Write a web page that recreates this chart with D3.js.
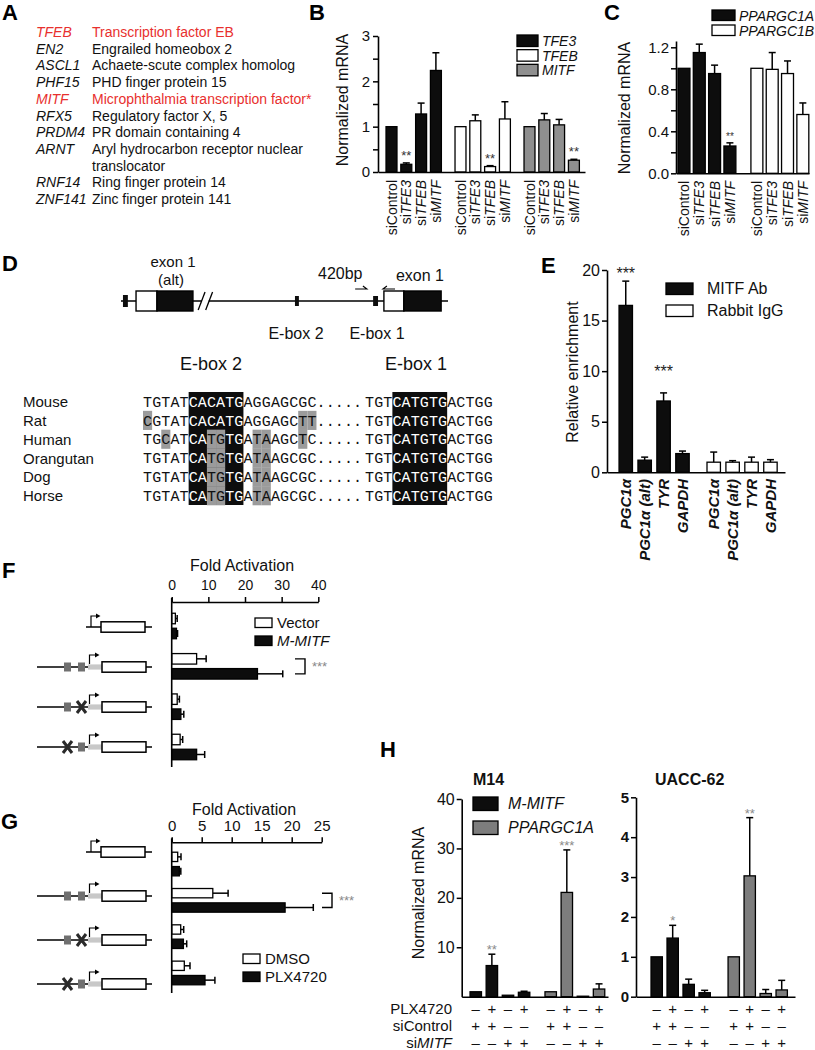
<!DOCTYPE html>
<html><head><meta charset="utf-8">
<script src="https://cdn.jsdelivr.net/npm/d3@7"></script>
<style>body{margin:0;background:#fff}</style>
</head><body><svg id="fig" width="815" height="1050"></svg>
<script>
const FF = "'Liberation Sans', Arial, Helvetica, sans-serif";
const MONO = "'Liberation Mono', 'Courier New', monospace";
const RED = "#e8302e";
const BLACK = "#0d0d0d";

// ---------------- DATA ----------------
// A
const A_genes = ["TFEB","EN2","ASCL1","PHF15","MITF","RFX5","PRDM4","ARNT","RNF14","ZNF141"];
const A_desc = ["Transcription factor EB","Engrailed homeobox 2","Achaete-scute complex homolog","PHD finger protein 15","Microphthalmia transcription factor*","Regulatory factor X, 5","PR domain containing 4","Aryl hydrocarbon receptor nuclear\ntranslocator","Ring finger protein 14","Zinc finger protein 141"];
const A_red = ["TFEB","MITF"];
// B
const B_series = ["TFE3","TFEB","MITF"];
const B_conds = ["siControl","siTFE3","siTFEB","siMITF"];
const B_values = [[1,0.17,1.28,2.24],[1,1.13,0.12,1.17],[1,1.15,1.04,0.26]];
const B_errors = [[0,0.03,0.24,0.39],[0,0.13,0.02,0.38],[0,0.14,0.12,0.02]];
const B_stars = [["","**","",""],["","","**",""],["","","","**"]];
const B_ticks = [0,1,2,3];
const B_minor = [0.5,1.5,2.5];
// C
const C_series = ["PPARGC1A","PPARGC1B"];
const C_conds = ["siControl","siTFE3","siTFEB","siMITF"];
const C_values = [[1,1.15,0.95,0.26],[1,0.99,0.95,0.56]];
const C_errors = [[0,0.08,0.08,0.03],[0,0.16,0.12,0.11]];
const C_stars = [["","","","**"],["","","",""]];
const C_ticks = [0,0.4,0.8,1.2];
const C_minor = [0.2,0.6,1.0];
// D
const D_species = ["Mouse","Rat","Human","Orangutan","Dog","Horse"];
const D_seqLeft = ["TGTATCACATGAGGAGCGC","CGTATCACATGAGGAGCTT","TGCATCATGTGATAAGCTC","TGTATCATGTGATAAGCGC","TGTATCATGTGATAAGCGC","TGTATCATGTGATAAGCGC"];
const D_seqRight = ["TGTCATGTGACTGG","TGTCATGTGACTGG","TGTCATGTGACTGG","TGTCATGTGACTGG","TGTCATGTGACTGG","TGTCATGTGACTGG"];
const D_eboxLeft = [5,10];
const D_eboxRight = [3,8];
// E
const E_series = ["MITF Ab","Rabbit IgG"];
const E_targets = ["PGC1α","PGC1α (alt)","TYR","GAPDH"];
const E_values = [[16.5,1.2,7.05,1.85],[1.0,1.0,1.0,1.0]];
const E_errors = [[2.4,0.3,0.8,0.25],[1.0,0.15,0.5,0.25]];
const E_stars = [["***","","***",""],["","","",""]];
const E_starAt = [[19.1,0,9.4,0],[0,0,0,0]];
const E_ticks = [0,5,10,15,20];
// F
const F_rows = ["basic","wt","mutE2","mutE1"];
const F_series = ["Vector","M-MITF"];
const F_values = [[1.0,6.8,1.5,2.3],[1.3,23.4,2.5,6.8]];
const F_errors = [[0.5,2.6,0.6,0.7],[0.3,6.9,0.8,2.2]];
const F_ticks = [0,10,20,30,40];
// G
const G_rows = ["basic","wt","mutE2","mutE1"];
const G_series = ["DMSO","PLX4720"];
const G_values = [[1.0,6.85,1.5,2.1],[1.27,18.9,1.95,5.55]];
const G_errors = [[0.55,2.55,0.5,0.95],[0.25,4.7,0.55,1.65]];
const G_ticks = [0,5,10,15,20,25];
// H
const H_series = ["M-MITF","PPARGC1A"];
const H_conds = ["c1","c2","c3","c4"];
const H_PLX = ["–","+","–","+"];
const H_siControl = ["+","+","–","–"];
const H_siMITF = ["–","–","+","+"];
const H_M14_values = [[1.0,6.3,0.3,0.9],[1.0,21.1,0.1,1.55]];
const H_M14_errors = [[0,2.3,0,0.2],[0,8.6,0,1.05]];
const H_M14_stars = [["","**","",""],["","***","",""]];
const H_M14_ticks = [10,20,30,40];
const H_UACC_values = [[1.0,1.47,0.31,0.1],[1.0,3.03,0.08,0.17]];
const H_UACC_errors = [[0,0.32,0.13,0.06],[0,1.46,0.1,0.24]];
const H_UACC_stars = [["","*","",""],["","**","",""]];
const H_UACC_ticks = [0,1,2,3,4,5];

// ---------------- HELPERS ----------------
const svg = d3.select("#fig");
svg.append("rect").attr("width",815).attr("height",1050).attr("fill","#fff");

function txt(g, x, y, s, o = {}) {
  const t = g.append("text").attr("x", x).attr("y", y)
    .attr("font-family", o.ff || FF).attr("font-size", o.size || 14)
    .attr("fill", o.fill || "#111").text(s);
  if (o.anchor) t.attr("text-anchor", o.anchor);
  if (o.italic) t.attr("font-style", "italic");
  if (o.bold) t.attr("font-weight", "bold");
  return t;
}
function styleAxis(ax, size, bold) {
  ax.attr("font-family", FF).attr("font-size", size);
  if (bold) ax.attr("font-weight", "bold");
  ax.selectAll(".domain").attr("stroke", "#000").attr("stroke-width", 1.6);
  ax.selectAll(".tick line").attr("stroke", "#000").attr("stroke-width", 1.5);
  ax.selectAll(".tick text").attr("fill", "#111");
}
function yAxis(g, y, x0, major, minor, fmt, size, bold, pad) {
  const ax = g.append("g").attr("transform", `translate(${x0},0)`)
    .call(d3.axisLeft(y).tickValues(major).tickFormat(fmt).tickSize(5).tickSizeOuter(0).tickPadding(pad));
  styleAxis(ax, size, bold);
  if (minor && minor.length) {
    const m = g.append("g").attr("transform", `translate(${x0},0)`)
      .call(d3.axisLeft(y).tickValues(minor).tickFormat("").tickSize(5));
    m.select(".domain").remove();
    styleAxis(m, size, bold);
  }
}
function xBaseline(g, x0, x1, y0) {
  const xs = d3.scaleLinear().domain([0, 1]).range([x0, x1]);
  const ax = g.append("g").attr("transform", `translate(0,${y0})`)
    .call(d3.axisBottom(xs).tickValues([]).tickSizeOuter(0));
  styleAxis(ax, 12, false);
}
// grouped vertical bars
function vbars(g, series, conds, values, errors, fills, outerRange, pi, ii, y, stars, starSize, starColor, starOff) {
  const xo = d3.scaleBand().domain(series).range(outerRange).paddingInner(pi).paddingOuter(0);
  const xi = d3.scaleBand().domain(conds).range([0, xo.bandwidth()]).paddingInner(ii).paddingOuter(ii / 2);
  const centers = [];
  series.forEach((s, si) => {
    centers.push([]);
    conds.forEach((c, ci) => {
      const v = values[si][ci], e = errors[si][ci];
      const x = xo(s) + xi(c), w = xi.bandwidth(), cx = x + w / 2;
      centers[si].push(cx);
      g.append("rect").attr("x", x).attr("y", y(v)).attr("width", w).attr("height", y(0) - y(v))
        .attr("fill", fills[si]).attr("stroke", "#000").attr("stroke-width", 1.3);
      if (e > 0) {
        g.append("line").attr("x1", cx).attr("x2", cx).attr("y1", y(v)).attr("y2", y(v + e)).attr("stroke", "#000").attr("stroke-width", 1.5);
        g.append("line").attr("x1", cx - 3.5).attr("x2", cx + 3.5).attr("y1", y(v + e)).attr("y2", y(v + e)).attr("stroke", "#000").attr("stroke-width", 1.5);
      }
      if (stars && stars[si][ci]) {
        txt(g, cx, y(v + e) - (starOff == null ? 3 : starOff), stars[si][ci], { anchor: "middle", size: starSize, fill: starColor });
      }
    });
  });
  return centers;
}
function siLabel(g, cx, y0, cond, size) {
  const t = g.append("text").attr("transform", `translate(${cx},${y0}) rotate(-90)`)
    .attr("text-anchor", "end").attr("dy", "0.36em").attr("font-family", FF).attr("font-size", size).attr("fill", "#111");
  if (cond.startsWith("si") && cond !== "siControl") {
    t.append("tspan").text("si");
    t.append("tspan").attr("font-style", "italic").text(cond.slice(2));
  } else t.text(cond);
}
function rotLabel(g, x, y, s, size) {
  g.append("text").attr("transform", `translate(${x},${y}) rotate(-90)`).attr("text-anchor", "middle")
    .attr("font-family", FF).attr("font-size", size).attr("fill", "#111").text(s);
}

// ---------------- PANEL LETTERS ----------------
const letters = [["A", 2, 20], ["B", 309, 20], ["C", 604, 20], ["D", 2, 271], ["E", 541, 273], ["F", 2, 578], ["G", 1, 829], ["H", 380, 757]];
letters.forEach(([l, x, y]) => txt(svg, x, y, l, { size: 22, bold: true, fill: "#000" }));

// ---------------- PANEL A ----------------
{
  const g = svg.append("g");
  const rowY = d3.scaleLinear().domain([0, 10]).range([37, 204]);
  let line = 0;
  A_genes.forEach((gn, i) => {
    const col = A_red.includes(gn) ? RED : "#111";
    txt(g, 36, rowY(line), gn, { italic: true, fill: col, size: 14 });
    const parts = A_desc[i].split("\n");
    parts.forEach((p, k) => txt(g, 92, rowY(line + k), p, { fill: col, size: 14 }));
    line += parts.length;
  });
}

// ---------------- PANEL B ----------------
{
  const g = svg.append("g");
  const y = d3.scaleLinear().domain([0, 3]).range([172, 36]);
  const centers = vbars(g, B_series, B_conds, B_values, B_errors, [BLACK, "#fff", "#8f8f8f"], [384.1, 581.3], 0.142, 0.26, y, B_stars, 13, "#333");
  yAxis(g, y, 378, B_ticks, B_minor, d3.format("d"), 15, false, 3);
  xBaseline(g, 378, 585, 172);
  centers.forEach(cs => cs.forEach((cx, ci) => siLabel(g, cx, 180, B_conds[ci], 14)));
  rotLabel(g, 348, 100, "Normalized mRNA", 16);
  const fills = [BLACK, "#fff", "#8f8f8f"];
  const ly = d3.scaleBand().domain(B_series).range([35, 79]);
  B_series.forEach((s, i) => {
    g.append("rect").attr("x", 517).attr("y", ly(s)).attr("width", 21).attr("height", 11.5).attr("fill", fills[i]).attr("stroke", "#000").attr("stroke-width", 1.3);
    txt(g, 542, ly(s) + 11, s, { italic: true, size: 14 });
  });
}

// ---------------- PANEL C ----------------
{
  const g = svg.append("g");
  const y = d3.scaleLinear().domain([0, 1.26]).range([173.3, 41]);
  const centers = vbars(g, C_series, C_conds, C_values, C_errors, [BLACK, "#fff"], [676.3, 810.5], 0.16, 0.22, y, C_stars, 10, "#333");
  yAxis(g, y, 676, C_ticks, C_minor, d3.format(".1f"), 15, false, 2);
  xBaseline(g, 676, 809, 173.3);
  centers.forEach(cs => cs.forEach((cx, ci) => siLabel(g, cx, 181, C_conds[ci], 14)));
  rotLabel(g, 630, 108, "Normalized mRNA", 16);
  const ly = d3.scaleBand().domain(C_series).range([10, 40]);
  [BLACK, "#fff"].forEach((f, i) => {
    g.append("rect").attr("x", 712).attr("y", ly(C_series[i])).attr("width", 23).attr("height", 10.5).attr("fill", f).attr("stroke", "#000").attr("stroke-width", 1.3);
    txt(g, 739, ly(C_series[i]) + 10.5, C_series[i], { italic: true, size: 14 });
  });
}

// ---------------- PANEL D ----------------
{
  const g = svg.append("g");
  // gene schematic (schematic units 0..100)
  const xs = d3.scaleLinear().domain([0, 100]).range([121, 448]);
  const ly = 301;
  g.append("line").attr("x1", xs(0)).attr("x2", xs(100)).attr("y1", ly).attr("y2", ly).attr("stroke", "#000").attr("stroke-width", 1.6);
  // break
  g.append("rect").attr("x", xs(24.6)).attr("y", ly - 3).attr("width", xs(26.8) - xs(24.6)).attr("height", 6).attr("fill", "#fff");
  [[23.6], [25.9]].forEach(([u]) => {
    g.append("line").attr("x1", xs(u)).attr("y1", ly + 9).attr("x2", xs(u + 2.1)).attr("y2", ly - 9).attr("stroke", "#000").attr("stroke-width", 1.3);
  });
  const marks = [[0.6, 2.1, 6], [53.2, 54.4, 5], [77.1, 78.6, 5]];
  marks.forEach(([a, b, h]) => g.append("rect").attr("x", xs(a)).attr("y", ly - h).attr("width", xs(b) - xs(a)).attr("height", 2 * h).attr("fill", BLACK));
  const exons = [[4.6, 11.0, 22.0], [80.4, 86.5, 97.9]];
  exons.forEach(([a, m, b]) => {
    g.append("rect").attr("x", xs(a)).attr("y", ly - 10).attr("width", xs(m) - xs(a)).attr("height", 20).attr("fill", "#fff").attr("stroke", "#000").attr("stroke-width", 1.4);
    g.append("rect").attr("x", xs(m)).attr("y", ly - 10).attr("width", xs(b) - xs(m)).attr("height", 20).attr("fill", BLACK).attr("stroke", "#000").attr("stroke-width", 1.4);
  });
  // primers
  const py = 289;
  g.append("path").attr("d", `M${xs(71.6)},${py}H${xs(75.2)}l-4,-3`).attr("fill", "none").attr("stroke", "#000").attr("stroke-width", 1.1);
  g.append("path").attr("d", `M${xs(83.8)},${py}H${xs(80.1)}l4,-3`).attr("fill", "none").attr("stroke", "#000").attr("stroke-width", 1.1);
  txt(g, 173, 266.5, "exon 1", { anchor: "middle", size: 15 });
  txt(g, 171, 284.5, "(alt)", { anchor: "middle", size: 15 });
  txt(g, 318, 279, "420bp", { size: 16 });
  txt(g, 420, 281, "exon 1", { anchor: "middle", size: 16 });
  txt(g, 296, 339, "E-box 2", { anchor: "middle", size: 16 });
  txt(g, 377, 339, "E-box 1", { anchor: "middle", size: 16 });
  txt(g, 211, 370, "E-box 2", { anchor: "middle", size: 18 });
  txt(g, 416, 370, "E-box 1", { anchor: "middle", size: 18 });

  // alignment
  const rows = d3.scaleBand().domain(D_species).range([392, 505]);
  const cw = 9.13;
  const xl = d3.scaleLinear().domain([0, 1]).range([143, 143 + cw]);
  const xr = d3.scaleLinear().domain([0, 1]).range([365, 365 + cw]);
  const rh = rows.bandwidth();
  // black core boxes
  g.append("rect").attr("x", xl(D_eboxLeft[0])).attr("y", rows(D_species[0])).attr("width", xl(D_eboxLeft[1] + 1) - xl(D_eboxLeft[0])).attr("height", rh * D_species.length).attr("fill", BLACK);
  g.append("rect").attr("x", xr(D_eboxRight[0])).attr("y", rows(D_species[0])).attr("width", xr(D_eboxRight[1] + 1) - xr(D_eboxRight[0])).attr("height", rh * D_species.length).attr("fill", BLACK);
  const ref = D_seqLeft[0];
  D_species.forEach((sp, r) => {
    const top = rows(sp);
    txt(g, 23, top + 15, sp, { size: 15 });
    const seq = D_seqLeft[r];
    for (let i = 0; i < seq.length; i++) {
      const mism = seq[i] !== ref[i];
      if (mism) g.append("rect").attr("x", xl(i)).attr("y", top).attr("width", cw).attr("height", rh + 0.3).attr("fill", "#9b9b9b");
    }
    for (let i = 0; i < seq.length; i++) {
      const mism = seq[i] !== ref[i];
      const inBox = i >= D_eboxLeft[0] && i <= D_eboxLeft[1];
      txt(g, xl(i) + cw / 2, top + 14.8, seq[i], { ff: MONO, size: 15, anchor: "middle", fill: (inBox && !mism) ? "#fff" : "#111" });
    }
    for (let i = 0; i < 5; i++) txt(g, xl(seq.length + i) + cw / 2, top + 14.8, ".", { ff: MONO, size: 15, anchor: "middle" });
    const s2 = D_seqRight[r];
    for (let i = 0; i < s2.length; i++) {
      const inBox = i >= D_eboxRight[0] && i <= D_eboxRight[1];
      txt(g, xr(i) + cw / 2, top + 14.8, s2[i], { ff: MONO, size: 15, anchor: "middle", fill: inBox ? "#fff" : "#111" });
    }
  });
}

// ---------------- PANEL E ----------------
{
  const g = svg.append("g");
  const y = d3.scaleLinear().domain([0, 20]).range([472.3, 270]);
  const centers = vbars(g, E_series, E_targets, E_values, E_errors, [BLACK, "#fff"], [616.3, 779.9], 0.14, 0.29, y, null);
  yAxis(g, y, 607, E_ticks, null, d3.format("d"), 16, false, 2);
  xBaseline(g, 607, 785, 472.3);
  centers.forEach((cs, si) => cs.forEach((cx, ci) => {
    g.append("text").attr("transform", `translate(${cx},479) rotate(-90)`).attr("text-anchor", "end").attr("dy", "0.36em")
      .attr("font-family", FF).attr("font-size", 15).attr("font-weight", "bold").attr("font-style", "italic").attr("fill", "#111").text(E_targets[ci]);
    if (E_stars[si][ci]) txt(g, cx, y(E_starAt[si][ci]), E_stars[si][ci], { anchor: "middle", size: 16, fill: "#222" });
  }));
  rotLabel(g, 578, 372, "Relative enrichment", 16);
  const ly = d3.scaleBand().domain(E_series).range([283, 327]);
  [BLACK, "#fff"].forEach((f, i) => {
    g.append("rect").attr("x", 666).attr("y", ly(E_series[i])).attr("width", 27).attr("height", 11.5).attr("fill", f).attr("stroke", "#000").attr("stroke-width", 1.3);
    txt(g, 707, ly(E_series[i]) + 11, E_series[i], { size: 16 });
  });
}

// ---------------- PANELS F & G ----------------
function construct(g, type, cy) {
  const S = "#000";
  if (type === "basic") {
    g.append("line").attr("x1", 86).attr("x2", 152).attr("y1", cy).attr("y2", cy).attr("stroke", S).attr("stroke-width", 1.5);
    g.append("path").attr("d", `M91,${cy}V${cy - 11}H97`).attr("fill", "none").attr("stroke", S).attr("stroke-width", 1.2);
    g.append("path").attr("d", `M96,${cy - 13.5}L100.5,${cy - 11}L96,${cy - 8.5}Z`).attr("fill", S);
    g.append("rect").attr("x", 101).attr("y", cy - 5.2).attr("width", 44).attr("height", 10.4).attr("fill", "#fff").attr("stroke", S).attr("stroke-width", 1.5);
    return;
  }
  g.append("line").attr("x1", 37).attr("x2", 152).attr("y1", cy).attr("y2", cy).attr("stroke", S).attr("stroke-width", 1.5);
  const boxes = [64, 78];
  boxes.forEach((bx, k) => {
    const mutated = (type === "mutE2" && k === 1) || (type === "mutE1" && k === 0);
    if (mutated) {
      g.append("path").attr("d", `M${bx - 1},${cy - 6}L${bx + 8},${cy + 6}M${bx + 8},${cy - 6}L${bx - 1},${cy + 6}`).attr("stroke", "#2a2a2a").attr("stroke-width", 3).attr("fill", "none");
    } else {
      g.append("rect").attr("x", bx).attr("y", cy - 4.5).attr("width", 7).attr("height", 9).attr("fill", "#707070");
    }
  });
  g.append("rect").attr("x", 88).attr("y", cy - 2.6).attr("width", 14).attr("height", 5.2).attr("fill", "#c8c8c8");
  g.append("path").attr("d", `M89.5,${cy - 3}V${cy - 12}H96`).attr("fill", "none").attr("stroke", S).attr("stroke-width", 1.2);
  g.append("path").attr("d", `M95,${cy - 14.5}L99.5,${cy - 12}L95,${cy - 9.5}Z`).attr("fill", S);
  g.append("rect").attr("x", 102).attr("y", cy - 5.2).attr("width", 44).attr("height", 10.4).attr("fill", "#fff").attr("stroke", S).attr("stroke-width", 1.5);
}
function hpanel(cfg) {
  const g = svg.append("g");
  const x = d3.scaleLinear().domain(cfg.domain).range(cfg.xRange);
  const yo = d3.scaleBand().domain(cfg.rows).range(cfg.yRange).paddingInner(cfg.pi).paddingOuter(0);
  const yi = d3.scaleBand().domain(cfg.series).range([0, yo.bandwidth()]).paddingInner(cfg.ii).paddingOuter(cfg.ii / 2);
  const fills = ["#fff", BLACK];
  const cyAt = {};
  cfg.rows.forEach((r, ri) => {
    cfg.series.forEach((s, si) => {
      const v = cfg.values[si][ri], e = cfg.errors[si][ri];
      const yy = yo(r) + yi(s), h = yi.bandwidth(), cy = yy + h / 2;
      cyAt[r + "|" + s] = cy;
      g.append("line").attr("x1", x(v)).attr("x2", x(v + e)).attr("y1", cy).attr("y2", cy).attr("stroke", "#000").attr("stroke-width", 1.5);
      g.append("line").attr("x1", x(v + e)).attr("x2", x(v + e)).attr("y1", cy - 3.5).attr("y2", cy + 3.5).attr("stroke", "#000").attr("stroke-width", 1.5);
      g.append("rect").attr("x", x(0)).attr("y", yy).attr("width", x(v) - x(0)).attr("height", h)
        .attr("fill", fills[si]).attr("stroke", "#000").attr("stroke-width", 1.3);
    });
  });
  const ax = g.append("g").attr("transform", `translate(0,${cfg.axisY})`)
    .call(d3.axisTop(x).tickValues(cfg.ticks).tickSize(5).tickSizeOuter(0).tickPadding(cfg.pad));
  styleAxis(ax, cfg.tickSize, false);
  g.append("line").attr("x1", x(0)).attr("x2", x(0)).attr("y1", cfg.axisY - 4).attr("y2", cfg.axisBottom).attr("stroke", "#000").attr("stroke-width", 1.6);
  txt(g, cfg.titleX, cfg.titleY, "Fold Activation", { anchor: "middle", size: 16 });
  // constructs
  const cy = d3.scalePoint().domain(cfg.rows).range(cfg.constructRange);
  cfg.rows.forEach(r => construct(g, r, cy(r)));
  // legend
  cfg.series.forEach((s, si) => {
    const ly = cfg.legY + si * cfg.legStep;
    g.append("rect").attr("x", cfg.legX).attr("y", ly).attr("width", 17).attr("height", 9.5).attr("fill", fills[si]).attr("stroke", "#000").attr("stroke-width", 1.3);
    txt(g, cfg.legX + 22, ly + 9.5, s, { size: 15, italic: cfg.legItalic[si] });
  });
  // bracket
  const y1 = cyAt[cfg.rows[1] + "|" + cfg.series[0]], y2 = cyAt[cfg.rows[1] + "|" + cfg.series[1]];
  g.append("path").attr("d", `M${cfg.brX},${y1}H${cfg.brX + 10}V${y2}H${cfg.brX}`).attr("fill", "none").attr("stroke", "#000").attr("stroke-width", 1.4);
  txt(g, cfg.brX + 17, (y1 + y2) / 2 + 5, "***", { size: 13, fill: "#888" });
}
hpanel({ rows: F_rows, series: F_series, values: F_values, errors: F_errors, domain: [0, 40], xRange: [171.7, 318.3],
  yRange: [611, 762], pi: 0.256, ii: 0.3, axisY: 602, axisBottom: 767, ticks: F_ticks, pad: 7, tickSize: 14,
  titleX: 242, titleY: 571, constructRange: [627, 747], legX: 255, legY: 618, legStep: 18, legItalic: [false, true], brX: 295 });
hpanel({ rows: G_rows, series: G_series, values: G_values, errors: G_errors, domain: [0, 25], xRange: [171.7, 321.7],
  yRange: [849.7, 987.3], pi: 0.21, ii: 0.35, axisY: 842.3, axisBottom: 993, ticks: G_ticks, pad: 6, tickSize: 15,
  titleX: 244, titleY: 815, constructRange: [852, 984], legX: 243, legY: 954, legStep: 18, legItalic: [false, false], brX: 322 });

// ---------------- PANEL H ----------------
{
  const g = svg.append("g");
  const fills = [BLACK, "#7d7d7d"];
  const charts = [
    { title: "M14", tx: 473, values: H_M14_values, errors: H_M14_errors, stars: H_M14_stars, dom: [0, 40], range: [996.7, 799], ticks: H_M14_ticks,
      ax: 461.7, axEnd: 608, outer: [467.7, 607.1], pi: 0.14, bold: false, tsize: 16 },
    { title: "UACC-62", tx: 655, values: H_UACC_values, errors: H_UACC_errors, stars: H_UACC_stars, dom: [0, 5], range: [996.7, 797.3], ticks: H_UACC_ticks,
      ax: 636, axEnd: 795, outer: [648.7, 789.7], pi: 0.17, bold: true, tsize: 15 }
  ];
  const rowsY = d3.scalePoint().domain(["PLX4720", "siControl", "siMITF"]).range([1014, 1048]);
  const signs = [H_PLX, H_siControl, H_siMITF];
  charts.forEach(c => {
    const y = d3.scaleLinear().domain(c.dom).range(c.range);
    const centers = vbars(g, H_series, H_conds, c.values, c.errors, fills, c.outer, c.pi, 0.29, y, c.stars, 13, "#8a8a8a", 0);
    yAxis(g, y, c.ax, c.ticks, null, d3.format("d"), c.tsize, c.bold, 2);
    xBaseline(g, c.ax, c.axEnd, c.range[0]);
    txt(g, c.tx, 785, c.title, { size: 16, bold: true, fill: "#111" });
    centers.forEach(cs => cs.forEach((cx, ci) => {
      ["PLX4720", "siControl", "siMITF"].forEach((rn, k) => txt(g, cx, rowsY(rn), signs[k][ci], { anchor: "middle", size: 15 }));
    }));
  });
  txt(g, 452, rowsY("PLX4720"), "PLX4720", { anchor: "end", size: 15 });
  txt(g, 452, rowsY("siControl"), "siControl", { anchor: "end", size: 15 });
  const t = g.append("text").attr("x", 452).attr("y", rowsY("siMITF")).attr("text-anchor", "end").attr("font-family", FF).attr("font-size", 15).attr("fill", "#111");
  t.append("tspan").text("si"); t.append("tspan").attr("font-style", "italic").text("MITF");
  rotLabel(g, 424, 893, "Normalized mRNA", 16);
  H_series.forEach((s, i) => {
    const ly = 797 + i * 24;
    g.append("rect").attr("x", 473).attr("y", ly).attr("width", 25).attr("height", 13.5).attr("fill", fills[i]).attr("stroke", "#000").attr("stroke-width", 1.3);
    txt(g, 508, ly + 12.3, s, { size: 16, italic: true });
  });
}
</script></body></html>
